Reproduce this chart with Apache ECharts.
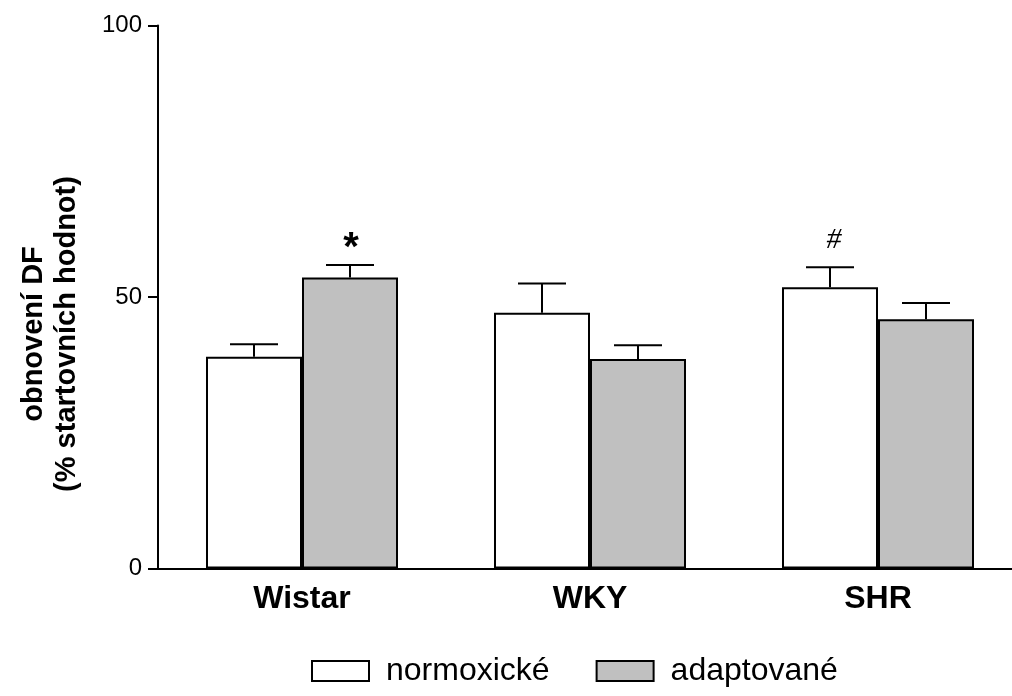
<!DOCTYPE html>
<html>
<head>
<meta charset="utf-8">
<script src="https://cdn.jsdelivr.net/npm/echarts@6/dist/echarts.min.js"></script>
<style>
  html, body { margin: 0; padding: 0; background: #fff; }
  #chart { width: 1012px; height: 696px; }
</style>
</head>
<body>
<div id="chart"></div>
<script>
// Rat strains on the x axis
const categories = ['Wistar', 'WKY', 'SHR'];
// Series names (legend)
const seriesNames = ['normoxické', 'adaptované'];
// Mean recovery of DF, % of starting values
const normValues = [39.0, 47.1, 51.8];
const adaptValues = [53.6, 38.6, 45.9];
// Upper error (SEM)
const normErr = [2.3, 5.4, 3.7];
const adaptErr = [2.3, 2.5, 3.0];
// Significance marks above error bars
const normMarks = ['', '', '#'];
const adaptMarks = ['*', '', ''];
// Y axis ticks
const yMin = 0, yMax = 100, yStep = 50;

const FONT = 'Liberation Sans, Arial, sans-serif';
const chart = echarts.init(document.getElementById('chart'), null, { renderer: 'canvas' });

// Error bars (upward only) plus significance marks, drawn on top of the bars
function errorSeries(values, errs, marks, side) {
  return {
    type: 'custom',
    z: 5,
    silent: true,
    data: values.map((v, i) => [i, v, v + errs[i]]),
    renderItem(params, api) {
      const i = api.value(0);
      const band = api.size([1, 0])[0];
      const off = side * band / 6;
      const base = api.coord([i, api.value(1)]);
      const top = api.coord([i, api.value(2)]);
      const x = base[0] + off;
      const half = band / 12;
      const mark = marks[i];
      const children = [
        { type: 'line', shape: { x1: x, y1: base[1], x2: x, y2: top[1] },
          style: { stroke: '#000', lineWidth: 2 } },
        { type: 'line', shape: { x1: x - half, y1: top[1], x2: x + half, y2: top[1] },
          style: { stroke: '#000', lineWidth: 2 } }
      ];
      if (mark === '*') {
        children.push({ type: 'text', x: x + 1, y: top[1] + 4,
          style: { text: mark, font: 'bold 40px ' + FONT, fill: '#000',
                   textAlign: 'center', textVerticalAlign: 'bottom' } });
      } else if (mark) {
        children.push({ type: 'text', x: x + 4, y: top[1] - 12,
          style: { text: mark, font: 'italic 30px Liberation Serif, serif', fill: '#000',
                   textAlign: 'center', textVerticalAlign: 'bottom' } });
      }
      return { type: 'group', children };
    }
  };
}

const option = {
  animation: false,
  backgroundColor: '#fff',
  grid: { left: 158, top: 25.5, width: 864, height: 543, outerBoundsMode: 'none' },
  legend: {
    left: 306, top: 650,
    itemWidth: 57, itemHeight: 20, itemGap: 46,
    icon: 'rect',
    data: seriesNames,
    textStyle: { fontFamily: FONT, fontSize: 32, color: '#000', padding: [0, 0, 0, 12] }
  },
  xAxis: {
    type: 'category',
    data: categories,
    axisLine: { lineStyle: { color: '#000', width: 2 } },
    axisTick: { show: false },
    axisLabel: { fontFamily: FONT, fontWeight: 'bold', fontSize: 32, color: '#000', margin: 15 }
  },
  yAxis: {
    type: 'value',
    min: yMin, max: yMax, interval: yStep,
    splitLine: { show: false },
    axisLine: { show: true, lineStyle: { color: '#000', width: 2 } },
    axisTick: { show: true, length: 10, lineStyle: { color: '#000', width: 2 } },
    axisLabel: { fontFamily: FONT, fontSize: 24, color: '#000', margin: 16 }
  },
  graphic: [{
    type: 'text',
    x: 50, y: 334,
    rotation: Math.PI / 2,
    style: {
      text: 'obnovení DF\n(% startovních hodnot)',
      font: 'bold 29px ' + FONT,
      fill: '#000',
      textAlign: 'center',
      textVerticalAlign: 'middle',
      lineHeight: 33
    }
  }],
  series: [
    {
      name: seriesNames[0], type: 'bar', data: normValues,
      barGap: '0%', barCategoryGap: '33.333%',
      itemStyle: { color: '#ffffff', borderColor: '#000', borderWidth: 2 }
    },
    {
      name: seriesNames[1], type: 'bar', data: adaptValues,
      barGap: '0%', barCategoryGap: '33.333%',
      itemStyle: { color: '#c0c0c0', borderColor: '#000', borderWidth: 2 }
    },
    errorSeries(normValues, normErr, normMarks, -1),
    errorSeries(adaptValues, adaptErr, adaptMarks, 1)
  ]
};

chart.setOption(option);
</script>
</body>
</html>
